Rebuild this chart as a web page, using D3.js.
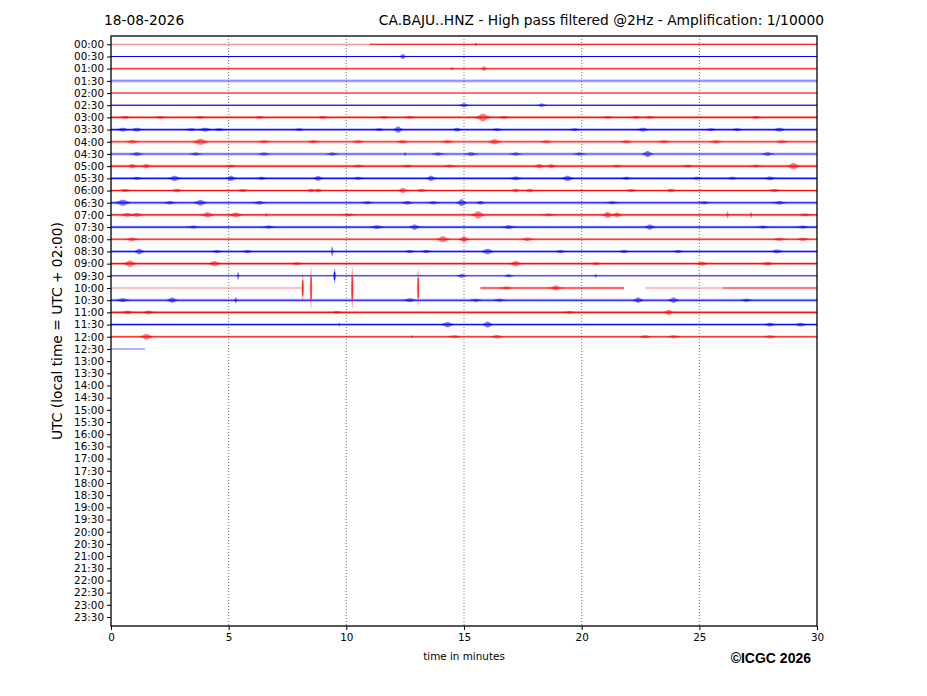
<!DOCTYPE html>
<html>
<head>
<meta charset="utf-8">
<script src="https://cdn.jsdelivr.net/npm/d3@7"></script>
<style>
  body { margin: 0; background: #fff; }
  svg text { font-family: "DejaVu Sans", sans-serif; }
</style>
</head>
<body>
<div id="chart"></div>
<script>
// tick labels, one per half-hour row
var rowLabels = ["00:00","00:30","01:00","01:30","02:00","02:30","03:00","03:30",
	"04:00","04:30","05:00","05:30","06:00","06:30","07:00","07:30",
	"08:00","08:30","09:00","09:30","10:00","10:30","11:00","11:30",
	"12:00","12:30","13:00","13:30","14:00","14:30","15:00","15:30",
	"16:00","16:30","17:00","17:30","18:00","18:30","19:00","19:30",
	"20:00","20:30","21:00","21:30","22:00","22:30","23:00","23:30"];
var xTicks = [0, 5, 10, 15, 20, 25, 30];
var gridTicks = [5, 10, 15, 20, 25];

// trace pieces: [row, start min, end min, noise amplitude (rows), strength]
var traceSegments = [
	[0, 0, 11, 0.03, 0.45], [0, 11, 30, 0.05, 1],
	[1, 0, 30, 0.05, 1],
	[2, 0, 30, 0.09, 0.7],
	[3, 0, 30, 0.15, 0.45],
	[4, 0, 30, 0.05, 0.9],
	[5, 0, 30, 0.06, 1],
	[6, 0, 30, 0.11, 0.9], [7, 0, 30, 0.12, 0.9], [8, 0, 30, 0.12, 0.8],
	[9, 0, 30, 0.13, 0.7], [10, 0, 30, 0.12, 0.9], [11, 0, 30, 0.11, 0.9],
	[12, 0, 30, 0.11, 0.9], [13, 0, 30, 0.12, 0.9], [14, 0, 30, 0.12, 0.9],
	[15, 0, 30, 0.11, 0.9], [16, 0, 30, 0.11, 0.9], [17, 0, 30, 0.12, 0.9],
	[18, 0, 30, 0.11, 0.9], [19, 0, 30, 0.08, 0.75],
	[20, 0, 8.1, 0.09, 0.3], [20, 15.7, 21.8, 0.11, 0.85], [20, 22.7, 26, 0.08, 0.3], [20, 26, 30, 0.1, 0.7],
	[21, 0, 30, 0.12, 0.9], [22, 0, 30, 0.11, 0.9], [23, 0, 30, 0.11, 0.9], [24, 0, 30, 0.11, 0.9],
	[25, 0, 1.45, 0.04, 0.45]
];

// bursts: [row, minute, amplitude (rows), half width (min)]
var bursts = [
	[0, 15.5, 0.15, 0.05],
	[1, 12.4, 0.2, 0.15],
	[2, 14.5, 0.12, 0.1], [2, 15.85, 0.2, 0.12],
	[5, 15.0, 0.17, 0.2], [5, 18.3, 0.15, 0.2],
	[6, 0.6, 0.12, 0.25], [6, 2.1, 0.12, 0.25], [6, 3.8, 0.12, 0.25], [6, 6.3, 0.12, 0.25], [6, 9.0, 0.12, 0.25],
	[6, 11.6, 0.12, 0.25], [6, 12.7, 0.12, 0.25], [6, 15.8, 0.3, 0.3], [6, 16.7, 0.12, 0.25], [6, 21.1, 0.12, 0.25],
	[6, 22.3, 0.12, 0.25], [6, 22.9, 0.12, 0.25], [6, 27.4, 0.12, 0.25],
	[7, 0.5, 0.15, 0.25], [7, 1.1, 0.15, 0.25], [7, 3.4, 0.12, 0.3], [7, 4.0, 0.15, 0.3], [7, 4.6, 0.12, 0.3],
	[7, 8.0, 0.12, 0.25], [7, 11.4, 0.12, 0.25], [7, 12.2, 0.25, 0.2], [7, 14.7, 0.15, 0.2], [7, 16.4, 0.12, 0.25],
	[7, 19.7, 0.12, 0.25], [7, 22.6, 0.15, 0.25], [7, 25.5, 0.12, 0.25], [7, 26.6, 0.12, 0.25], [7, 28.4, 0.15, 0.25],
	[8, 0.9, 0.15, 0.25], [8, 3.8, 0.25, 0.3], [8, 6.5, 0.12, 0.25], [8, 8.6, 0.12, 0.25], [8, 10.5, 0.12, 0.25],
	[8, 12.4, 0.12, 0.25], [8, 14.3, 0.12, 0.25], [8, 16.3, 0.2, 0.25], [8, 18.5, 0.12, 0.25], [8, 21.9, 0.12, 0.25],
	[8, 23.5, 0.12, 0.25], [8, 25.7, 0.12, 0.25], [8, 28.5, 0.12, 0.25],
	[9, 1.1, 0.15, 0.25], [9, 3.6, 0.12, 0.25], [9, 6.5, 0.12, 0.25], [9, 9.4, 0.12, 0.25], [9, 12.5, 0.15, 0.05],
	[9, 13.9, 0.12, 0.25], [9, 15.3, 0.15, 0.25], [9, 17.2, 0.12, 0.25], [9, 19.9, 0.12, 0.25], [9, 22.8, 0.25, 0.2],
	[9, 27.9, 0.15, 0.25],
	[10, 0.9, 0.17, 0.2], [10, 1.5, 0.17, 0.2], [10, 5.1, 0.12, 0.25], [10, 10.5, 0.12, 0.25], [10, 12.6, 0.12, 0.25],
	[10, 14.4, 0.12, 0.25], [10, 18.2, 0.17, 0.2], [10, 18.7, 0.15, 0.2], [10, 21.5, 0.12, 0.25], [10, 24.5, 0.12, 0.25],
	[10, 27.4, 0.12, 0.25], [10, 29.0, 0.25, 0.25],
	[11, 1.1, 0.12, 0.25], [11, 2.7, 0.22, 0.25], [11, 5.1, 0.22, 0.2], [11, 6.4, 0.12, 0.25], [11, 8.8, 0.2, 0.2],
	[11, 10.5, 0.12, 0.25], [11, 13.6, 0.22, 0.2], [11, 17.2, 0.15, 0.25], [11, 19.4, 0.22, 0.25], [11, 21.9, 0.12, 0.25],
	[11, 24.9, 0.12, 0.25], [11, 26.4, 0.12, 0.25], [11, 28.0, 0.15, 0.25],
	[12, 0.6, 0.12, 0.25], [12, 2.8, 0.15, 0.25], [12, 5.6, 0.12, 0.25], [12, 8.5, 0.15, 0.2], [12, 8.8, 0.15, 0.2],
	[12, 12.4, 0.2, 0.2], [12, 13.2, 0.12, 0.25], [12, 17.2, 0.15, 0.2], [12, 17.8, 0.15, 0.2], [12, 22.1, 0.12, 0.25],
	[12, 23.8, 0.15, 0.25], [12, 28.2, 0.12, 0.25],
	[13, 0.5, 0.25, 0.3], [13, 2.5, 0.15, 0.25], [13, 3.8, 0.22, 0.25], [13, 6.3, 0.15, 0.25], [13, 10.9, 0.12, 0.25],
	[13, 12.6, 0.15, 0.25], [13, 13.7, 0.12, 0.25], [13, 14.9, 0.28, 0.2], [13, 15.7, 0.15, 0.2], [13, 21.3, 0.12, 0.25],
	[13, 25.2, 0.12, 0.25], [13, 28.4, 0.15, 0.25],
	[14, 0.7, 0.15, 0.25], [14, 1.1, 0.15, 0.25], [14, 4.1, 0.22, 0.25], [14, 5.3, 0.2, 0.25], [14, 6.6, 0.15, 0.05],
	[14, 10.1, 0.12, 0.25], [14, 15.6, 0.3, 0.25], [14, 18.6, 0.12, 0.25], [14, 21.1, 0.25, 0.2], [14, 21.5, 0.2, 0.2],
	[14, 26.2, 0.3, 0.05], [14, 27.2, 0.25, 0.05], [14, 29.5, 0.12, 0.25],
	[15, 3.5, 0.12, 0.25], [15, 6.7, 0.12, 0.25], [15, 11.3, 0.15, 0.25], [15, 12.9, 0.22, 0.2], [15, 16.9, 0.15, 0.25],
	[15, 22.9, 0.22, 0.2], [15, 27.7, 0.12, 0.25], [15, 29.4, 0.12, 0.25],
	[16, 0.9, 0.15, 0.25], [16, 14.1, 0.25, 0.25], [16, 15.0, 0.25, 0.2], [16, 17.7, 0.15, 0.25], [16, 28.4, 0.12, 0.25],
	[16, 29.4, 0.12, 0.25],
	[17, 1.2, 0.22, 0.2], [17, 4.5, 0.12, 0.25], [17, 5.8, 0.12, 0.25], [17, 9.4, 0.4, 0.06], [17, 12.7, 0.12, 0.25],
	[17, 13.4, 0.12, 0.25], [17, 16.0, 0.22, 0.25], [17, 19.1, 0.12, 0.25], [17, 21.8, 0.12, 0.25], [17, 24.1, 0.12, 0.25],
	[17, 28.3, 0.15, 0.25],
	[18, 0.8, 0.25, 0.25], [18, 4.4, 0.22, 0.25], [18, 7.9, 0.12, 0.25], [18, 17.2, 0.22, 0.25], [18, 20.6, 0.12, 0.25],
	[18, 25.1, 0.15, 0.25], [18, 27.9, 0.15, 0.25],
	[19, 5.4, 0.35, 0.05], [19, 9.5, 0.6, 0.08], [19, 14.9, 0.15, 0.2], [19, 16.9, 0.12, 0.2], [19, 20.6, 0.15, 0.05],
	[20, 8.15, 1.15, 0.06], [20, 8.5, 1.7, 0.06], [20, 10.25, 1.7, 0.07], [20, 13.05, 1.5, 0.06],
	[20, 16.8, 0.12, 0.25], [20, 18.9, 0.2, 0.25],
	[21, 0.5, 0.15, 0.25], [21, 2.6, 0.22, 0.2], [21, 5.3, 0.25, 0.06], [21, 12.7, 0.15, 0.25], [21, 15.5, 0.12, 0.25],
	[21, 16.5, 0.12, 0.25], [21, 22.4, 0.22, 0.2], [21, 23.9, 0.22, 0.2], [21, 27.0, 0.12, 0.25],
	[22, 0.7, 0.15, 0.25], [22, 1.6, 0.15, 0.25], [22, 9.6, 0.12, 0.2], [22, 19.5, 0.12, 0.25], [22, 23.7, 0.22, 0.2],
	[23, 9.7, 0.15, 0.04], [23, 14.3, 0.22, 0.25], [23, 16.0, 0.25, 0.2], [23, 28.0, 0.15, 0.25], [23, 29.3, 0.15, 0.25],
	[24, 1.5, 0.22, 0.25], [24, 12.8, 0.15, 0.04], [24, 14.6, 0.12, 0.25], [24, 16.4, 0.15, 0.25], [24, 22.7, 0.12, 0.25],
	[24, 23.9, 0.12, 0.25], [24, 28.0, 0.12, 0.25]
];

var rowColors = ["#ff0000", "#0000ff"];

var W = 927, H = 696;
var margin = {top: 36, right: 110, bottom: 70, left: 111};

var svg = d3.select("#chart").append("svg")
	.attr("width", W)
	.attr("height", H);

var x = d3.scaleLinear()
	.domain([0, 30])
	.range([margin.left, W - margin.right]);

// row 0 sits at y=44.3, row 47 at y=617
var y = d3.scaleLinear()
	.domain([0, 47])
	.range([44.3, 617]);

// trace amplitude measured in row spacings
var amp = d3.scaleLinear()
	.domain([0, 1])
	.range([0, y(1) - y(0)]);

function color(row) { return rowColors[row % 2]; }

// dotted minute grid
svg.append("g").selectAll("line")
		.data(gridTicks)
	.enter().append("line")
		.attr("x1", function(d) { return x(d); })
		.attr("x2", function(d) { return x(d); })
		.attr("y1", margin.top)
		.attr("y2", H - margin.bottom)
		.attr("stroke", "#555")
		.attr("stroke-width", 0.8)
		.attr("stroke-dasharray", "1,2");

var plot = svg.append("g");

// noise band + baseline per segment
plot.selectAll("path.band")
		.data(traceSegments)
	.enter().append("path")
		.attr("class", "band")
		.attr("d", function(d) {
			var area = d3.area()
				.x(function(t) { return x(t); })
				.y0(y(d[0]) - amp(d[3]))
				.y1(y(d[0]) + amp(d[3]));
			return area([d[1], d[2]]);
		})
		.style("fill", function(d) { return color(d[0]); })
		.style("opacity", function(d) { return 0.35 * d[4]; });

plot.selectAll("line.base")
		.data(traceSegments)
	.enter().append("line")
		.attr("class", "base")
		.attr("x1", function(d) { return x(d[1]); })
		.attr("x2", function(d) { return x(d[2]); })
		.attr("y1", function(d) { return y(d[0]); })
		.attr("y2", function(d) { return y(d[0]); })
		.attr("stroke", function(d) { return color(d[0]); })
		.attr("stroke-width", 1.1)
		.attr("stroke-opacity", function(d) { return d[4]; });

// bursts as spindle shapes around the baseline
plot.selectAll("path.burst")
		.data(bursts)
	.enter().append("path")
		.attr("class", "burst")
		.attr("d", function(d) {
			var w = d[2] > 0.5 ? d[3] : d[3] * 1.3;
			var pts = [[d[1] - w, 0], [d[1] - w * 0.5, d[2] * 0.45], [d[1] - w * 0.15, d[2]],
				[d[1] + w * 0.15, d[2]], [d[1] + w * 0.5, d[2] * 0.45], [d[1] + w, 0]];
			var area = d3.area()
				.x(function(p) { return x(p[0]); })
				.y0(function(p) { return y(d[0]) - amp(p[1]); })
				.y1(function(p) { return y(d[0]) + amp(p[1]); });
			return area(pts);
		})
		.style("fill", function(d) { return color(d[0]); })
		.style("opacity", function(d) { return d[2] > 0.5 ? 0.4 : 0.5; });

// dark core line for the big spikes
plot.selectAll("line.core")
		.data(bursts.filter(function(d) { return d[2] > 0.5; }))
	.enter().append("line")
		.attr("class", "core")
		.attr("x1", function(d) { return x(d[1]); })
		.attr("x2", function(d) { return x(d[1]); })
		.attr("y1", function(d) { return y(d[0]) - amp(d[2] * 0.55); })
		.attr("y2", function(d) { return y(d[0]) + amp(d[2] * 0.55); })
		.attr("stroke", function(d) { return color(d[0]); })
		.attr("stroke-width", 1);

// axes
var xAxis = d3.axisBottom(x).tickValues(xTicks).tickSize(4).tickPadding(4);
svg.append("g")
	.attr("transform", "translate(0," + (H - margin.bottom) + ")")
	.call(xAxis)
	.call(function(g) {
		g.select(".domain").remove();
		g.selectAll("text").style("font-size", "10.4px").attr("fill", "#000");
		g.selectAll("line").attr("stroke", "#000");
	});

var yAxis = d3.axisLeft(y)
	.tickValues(d3.range(rowLabels.length))
	.tickFormat(function(i) { return rowLabels[i]; })
	.tickSize(4).tickPadding(3);
svg.append("g")
	.attr("transform", "translate(" + margin.left + ",0)")
	.call(yAxis)
	.call(function(g) {
		g.select(".domain").remove();
		g.selectAll("text").style("font-size", "10.4px").attr("fill", "#000");
		g.selectAll("line").attr("stroke", "#000");
	});

// frame
svg.append("rect")
	.attr("x", margin.left)
	.attr("y", margin.top)
	.attr("width", W - margin.right - margin.left)
	.attr("height", H - margin.bottom - margin.top)
	.attr("fill", "none")
	.attr("stroke", "#000")
	.attr("stroke-width", 1.3);

// titles
svg.append("text")
	.attr("x", 104).attr("y", 25)
	.style("font-size", "13.8px")
	.text("18-08-2026");

svg.append("text")
	.attr("x", 824).attr("y", 25)
	.attr("text-anchor", "end")
	.style("font-size", "13.8px")
	.text("CA.BAJU..HNZ - High pass filtered @2Hz - Amplification: 1/10000");

svg.append("text")
	.attr("transform", "translate(62," + ((margin.top + H - margin.bottom) / 2) + ") rotate(-90)")
	.attr("text-anchor", "middle")
	.style("font-size", "13.8px")
	.text("UTC (local time = UTC + 02:00)");

svg.append("text")
	.attr("x", x(15)).attr("y", 660)
	.attr("text-anchor", "middle")
	.style("font-size", "10.4px")
	.text("time in minutes");

svg.append("text")
	.attr("x", 811).attr("y", 663)
	.attr("text-anchor", "end")
	.style("font-family", "'Liberation Sans', Arial, sans-serif")
	.style("font-weight", "bold")
	.style("font-size", "14px")
	.text("©ICGC 2026");
</script>
</body>
</html>
